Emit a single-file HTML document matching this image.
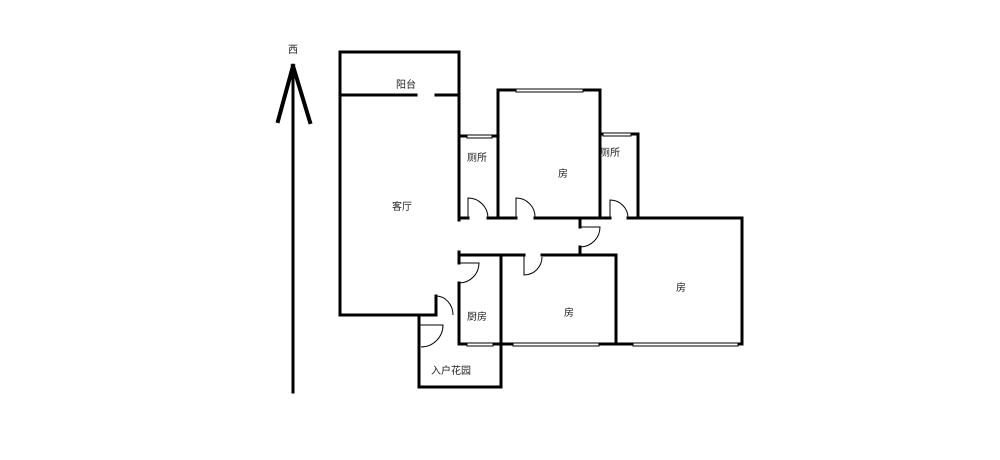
<!DOCTYPE html>
<html><head><meta charset="utf-8"><style>
html,body{margin:0;padding:0;background:#fff;}
svg text{font-family:"Liberation Sans","Noto Sans CJK SC",sans-serif;font-size:10px;fill:#222;text-anchor:middle;}
</style></head><body>
<svg width="1000" height="455" viewBox="0 0 1000 455" xmlns="http://www.w3.org/2000/svg">
<g fill="none" stroke="#000" stroke-width="3" stroke-linecap="square">
<!-- arrow -->
<line x1="293" y1="70" x2="293" y2="392"/>
<line x1="293" y1="66" x2="278" y2="121" stroke-width="4"/>
<line x1="293" y1="66" x2="310" y2="122" stroke-width="4"/>
<!-- balcony -->
<polyline points="340,315 340,52 459,52 459,220"/>
<line x1="340" y1="95" x2="416" y2="95"/>
<line x1="436" y1="95" x2="459" y2="95"/>
<!-- toilet1 -->
<polyline points="459,136 498,136"/>
<!-- room top -->
<polyline points="498,218 498,90 600,90 600,218"/>
<polyline points="600,134 638,134 638,218 742,218 742,344 459,344 459,283"/>
<!-- walls at 218 -->
<line x1="459" y1="218" x2="468" y2="218"/>
<line x1="488" y1="218" x2="516" y2="218"/>
<line x1="535" y1="218" x2="610" y2="218"/>
<line x1="628" y1="218" x2="638" y2="218"/>
<line x1="580" y1="218" x2="580" y2="227"/>
<line x1="580" y1="247" x2="580" y2="255"/>
<!-- line 255 -->
<polyline points="459,252 459,263"/>
<line x1="459" y1="255" x2="524" y2="255"/>
<line x1="542" y1="255" x2="616" y2="255"/>
<line x1="616" y1="255" x2="616" y2="344"/>
<line x1="501" y1="255" x2="501" y2="387"/>
<!-- living bottom -->
<line x1="340" y1="315" x2="436" y2="315"/>
<line x1="436" y1="315" x2="436" y2="296"/>
<polyline points="419,315 419,387 501,387"/>
</g>
<!-- doors arcs -->
<g fill="none" stroke="#000" stroke-width="1">
<path d="M468,218 V198 A20,20 0 0 1 488,218"/>
<path d="M516,218 V198 A19,19 0 0 1 535,218"/>
<path d="M610,218 V200 A18,18 0 0 1 628,218"/>
<path d="M580,227 H600 A20,20 0 0 1 580,247"/>
<path d="M524,255 V275 A18,18 0 0 0 542,257"/>
<path d="M459,263 H479 A20,20 0 0 1 459,283"/>
<path d="M436,296 A17,19 0 0 1 453,315"/>
<path d="M419,325 H443 A22,22 0 0 1 421,347"/>
</g>
<!-- windows -->
<g fill="#fff" stroke="#000" stroke-width="1">
<rect x="516" y="89" width="67" height="3"/>
<rect x="467" y="135" width="25" height="3"/>
<rect x="603" y="133" width="28" height="3"/>
<rect x="467" y="343" width="26" height="3"/>
<rect x="513" y="343" width="86" height="3"/>
<rect x="633" y="343" width="105" height="3"/>
</g>
<text x="293" y="53">西</text>
<text x="406" y="88">阳台</text>
<text x="477" y="161">厕所</text>
<text x="563" y="177">房</text>
<text x="610" y="156">厕所</text>
<text x="402" y="210">客厅</text>
<text x="681" y="291">房</text>
<text x="569" y="316">房</text>
<text x="477" y="320">厨房</text>
<text x="451" y="374">入户花园</text>
</svg>
</body></html>
